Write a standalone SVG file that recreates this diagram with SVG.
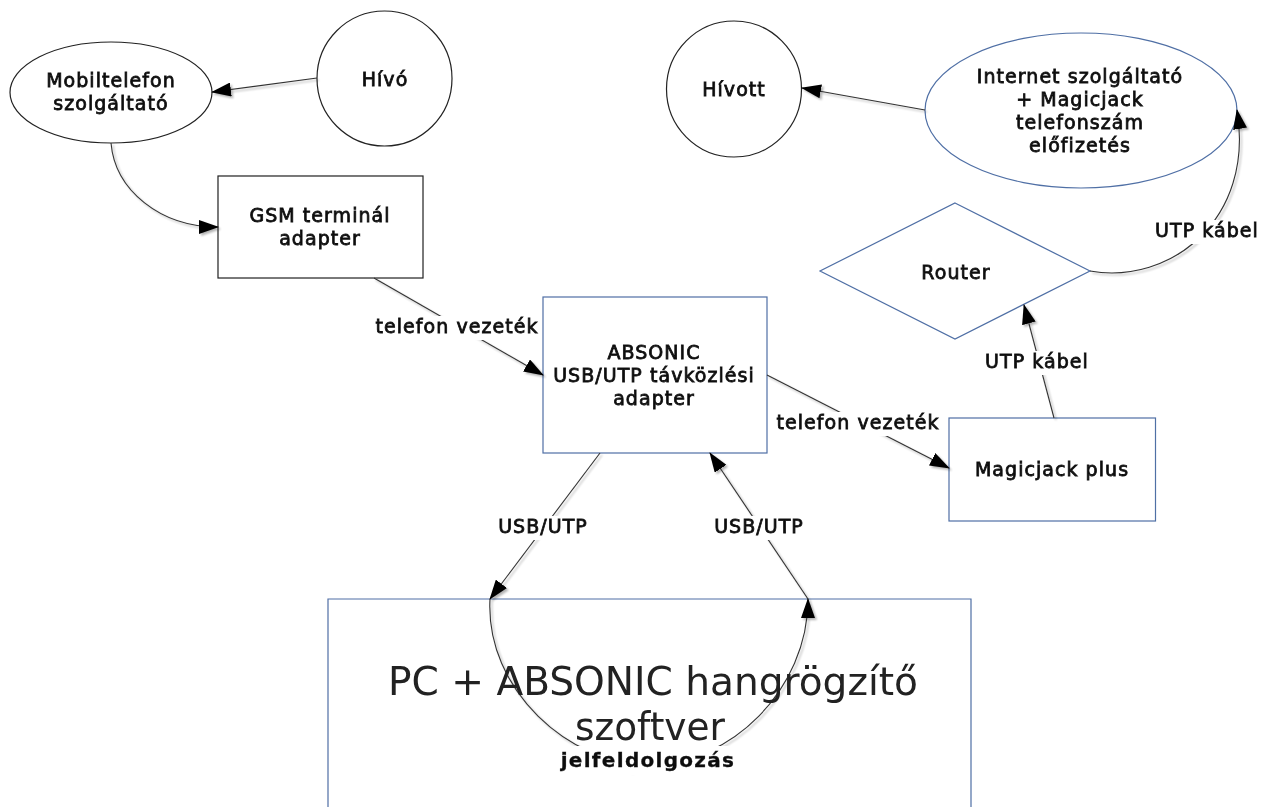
<svg xmlns="http://www.w3.org/2000/svg" width="1278" height="807" viewBox="0 0 1278 807">
<style>
.k{fill:#fff;stroke:#222;stroke-width:1.2}
.b{fill:#fff;stroke:#4f6fa5;stroke-width:1.2}
.c{fill:none;stroke:#333;stroke-width:1.1;marker-end:url(#a)}
text{font-family:"DejaVu Sans",Verdana,sans-serif;fill:#111;text-anchor:middle}
.t{font-size:19px;letter-spacing:1.05px;stroke:#111;stroke-width:.8}
.big{font-size:39px;font-weight:400;fill:#222}
.j{font-size:20px;font-weight:700;letter-spacing:1.3px;stroke-width:.3}
.bg{fill:#fff;stroke:none}
</style>
<defs>
<marker id="a" markerUnits="userSpaceOnUse" markerWidth="20" markerHeight="14" refX="19" refY="7" orient="auto"><path d="M0 0L20 7L0 14Z" fill="#000"/></marker>
<filter id="s" x="-10%" y="-10%" width="120%" height="120%"><feGaussianBlur in="SourceAlpha" stdDeviation="1"/><feOffset dx="1.5" dy="1.5"/><feComponentTransfer><feFuncA type="linear" slope=".3"/></feComponentTransfer><feMerge><feMergeNode/><feMergeNode in="SourceGraphic"/></feMerge></filter>
<filter id="soft" x="-2%" y="-2%" width="104%" height="104%"><feGaussianBlur stdDeviation=".5"/></filter>
</defs>
<rect width="1278" height="807" fill="#fff"/>
<g filter="url(#soft)">
<g id="node-pc"><path class="b" d="M328 807V599H971V807"/></g>
<g id="node-mobil"><ellipse class="k" cx="111" cy="92.500" rx="101" ry="50.500"/><text class="t" x="111" y="87">Mobiltelefon</text><text class="t" x="111" y="110">szolgáltató</text></g>
<g id="node-hivo"><circle class="k" cx="384.500" cy="78.500" r="67.500"/><text class="t" x="385" y="86">Hívó</text></g>
<g id="node-gsm"><rect class="k" x="218" y="176" width="205" height="102"/><text class="t" x="320" y="222">GSM terminál</text><text class="t" x="320" y="245">adapter</text></g>
<g id="node-hivott"><ellipse class="k" cx="734" cy="89" rx="67.500" ry="68"/><text class="t" x="734" y="96">Hívott</text></g>
<g id="node-internet"><ellipse class="b" cx="1081" cy="110.500" rx="156" ry="77.500"/><text class="t" x="1080" y="83">Internet szolgáltató</text><text class="t" x="1080" y="106">+ Magicjack</text><text class="t" x="1080" y="129">telefonszám</text><text class="t" x="1080" y="152">előfizetés</text></g>
<g id="node-router"><path class="b" d="M955 203L1090 271L955 339L820 271Z"/><text class="t" x="956" y="279">Router</text></g>
<g id="node-absonic"><rect class="b" x="543" y="297" width="224" height="156"/><text class="t" x="654" y="359">ABSONIC</text><text class="t" x="654" y="382">USB/UTP távközlési</text><text class="t" x="654" y="405">adapter</text></g>
<g id="node-magicjack"><rect class="b" x="949" y="418" width="206.500" height="103"/><text class="t" x="1052" y="476">Magicjack plus</text></g>
<g id="connectors" filter="url(#s)">
<path class="c" d="M317 78L212 92"/>
<path class="c" d="M111 143C115 190 160 227 218 227"/>
<path class="c" d="M374 278L543 375"/>
<path class="c" d="M767 375L949 468"/>
<path class="c" d="M1054 418L1024 305"/>
<path class="c" d="M1090 271C1170 285 1255 220 1237 110"/>
<path class="c" d="M925 110L802 88"/>
<path class="c" d="M600 453L490 599"/>
<path class="c" d="M808 599L710 453"/>
<path class="c" d="M490 599C485 690 570 765 649 765"/>
<path class="c" d="M649 765C730 765 808 690 808 599"/>
</g>
<g id="pc-text"><text class="big" x="653" y="695" textLength="530" lengthAdjust="spacingAndGlyphs">PC + ABSONIC hangrögzítő</text><text class="big" x="650" y="740" textLength="150" lengthAdjust="spacingAndGlyphs">szoftver</text></g>
<g id="labels">
<rect class="bg" x="372" y="316" width="170" height="24"/><text class="t" x="457" y="333">telefon vezeték</text>
<rect class="bg" x="775" y="412" width="170" height="24"/><text class="t" x="858" y="429">telefon vezeték</text>
<rect class="bg" x="1153" y="220" width="110" height="24"/><text class="t" x="1207" y="237">UTP kábel</text>
<rect class="bg" x="983" y="351" width="110" height="24"/><text class="t" x="1037" y="368">UTP kábel</text>
<rect class="bg" x="492" y="516" width="102" height="24"/><text class="t" x="543" y="533">USB/UTP</text>
<rect class="bg" x="708" y="516" width="102" height="24"/><text class="t" x="759" y="533">USB/UTP</text>
<rect class="bg" x="556" y="746" width="186" height="29"/><text class="t j" x="648" y="767">jelfeldolgozás</text>
</g>
</g>
</svg>
